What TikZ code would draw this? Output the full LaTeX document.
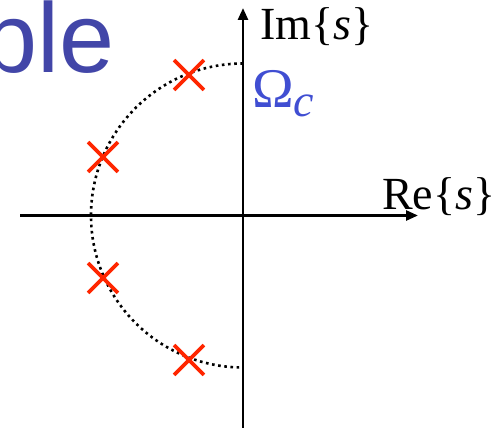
\documentclass[tikz,border=0pt]{standalone}
\usepackage{fontspec}
\setmainfont{Liberation Serif}
\newfontfamily\titlefont{Liberation Sans}
\usetikzlibrary{arrows.meta,shapes.misc}
\pgfdeclarelayer{edgelayer}
\pgfdeclarelayer{nodelayer}
\pgfsetlayers{edgelayer,nodelayer,main}
\definecolor{titleblue}{RGB}{66,70,168}
\definecolor{omegablue}{RGB}{64,78,210}
\definecolor{polered}{RGB}{255,38,0}
\tikzstyle{axis}=[draw=black, line width=2.6, -{Triangle[length=12,width=10]}]
\tikzstyle{circ}=[draw=black, line width=2.6, dash pattern=on 2.6 off 3.6]
\tikzstyle{pole}=[cross out, draw=polered, line width=3.8, minimum size=26, inner sep=0]
\tikzstyle{lbl}=[inner sep=0, anchor=base west]

\begin{document}
\begin{tikzpicture}[x=1pt,y=-1pt]
				\useasboundingbox (0,0) rectangle (499,428);
				\begin{pgfonlayer}{nodelayer}
					\coordinate (o) at (243, 215.5);
					\coordinate (xl) at (20, 215.5);
					\coordinate (xr) at (418, 215.5);
					\coordinate (yb) at (243, 432);
					\coordinate (yt) at (243, 8);
					\coordinate (top) at (243, 63.5);
					\node [style=pole] (0) at (189, 75) {};
					\node [style=pole] (1) at (103, 157) {};
					\node [style=pole] (2) at (103, 278) {};
					\node [style=pole] (3) at (189, 360) {};
					\node [style=lbl, text=titleblue, font=\titlefont\fontsize{99}{104}\selectfont] (title) at (-18, 73) {ple};
					\node [style=lbl, font=\fontsize{46}{50}\selectfont] (im) at (260, 40) {Im\{\textit{s}\}};
					\node [style=lbl, font=\fontsize{46}{50}\selectfont] (re) at (382, 210) {Re\{\textit{s}\}};
					\node [style=lbl, text=omegablue, font=\fontsize{56}{60}\selectfont] (wc) at (252, 108) {Ω\raisebox{-9pt}{\fontsize{46}{50}\selectfont\textit{c}}};
				\end{pgfonlayer}
				\begin{pgfonlayer}{edgelayer}
					\draw [style=circ] (top) arc (270:90:152);
					\draw [style=axis] (xl) to (xr);
					\draw [style=axis] (yb) to (yt);
				\end{pgfonlayer}
			\end{tikzpicture}
\end{document}
